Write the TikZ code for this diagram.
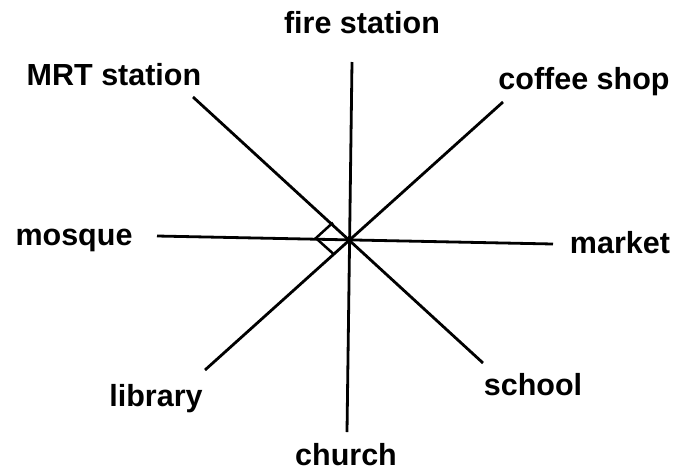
\documentclass[tikz,border=0pt]{standalone}
\usepackage{fontspec}
\setmainfont{Liberation Sans}
\usetikzlibrary{calc}
\begin{document}
\begin{tikzpicture}[x=1pt,y=-1pt,
  lbl/.style={font=\bfseries\fontsize{30.5}{36}\selectfont, inner sep=0pt, anchor=base},
  ray/.style={line width=2.8pt, line cap=butt},
  anglemark/.style={line width=2.5pt, line join=miter}]
\useasboundingbox (0,0) rectangle (680,475);
% centre and free ends
\coordinate (c) at (350,238);
\coordinate (n) at (352,62);
\coordinate (s) at (347,432);
\coordinate (w) at (157,236);
\coordinate (e) at (553,244);
\coordinate (nw) at (193,97);
\coordinate (se) at (483,363);
\coordinate (ne) at (503,102);
\coordinate (sw) at (205,370);
% labels
\node[lbl] (fire) at (362,33) {fire station};
\node[lbl] (mrt) at (114,85) {MRT station};
\node[lbl] (coffee) at (584,89) {coffee shop};
\node[lbl] (mosque) at (74,245) {mosque};
\node[lbl] (market) at (620,253) {market};
\node[lbl] (library) at (156,406) {library};
\node[lbl] (school) at (533,395) {school};
\node[lbl] (church) at (346,465) {church};
% rays
\draw[ray] (n) -- (s);
\draw[ray] (w) -- (e);
\draw[ray] (nw) -- (se);
\draw[ray] (ne) -- (sw);
% right-angle mark
\coordinate (m1) at ($(c)!23pt!(nw)$);
\coordinate (m2) at ($(c)!23pt!(sw)$);
\coordinate (mc) at ($(m1)+(m2)-(c)$);
\draw[anglemark] (m1) -- (mc) -- (m2);
\end{tikzpicture}
\end{document}
